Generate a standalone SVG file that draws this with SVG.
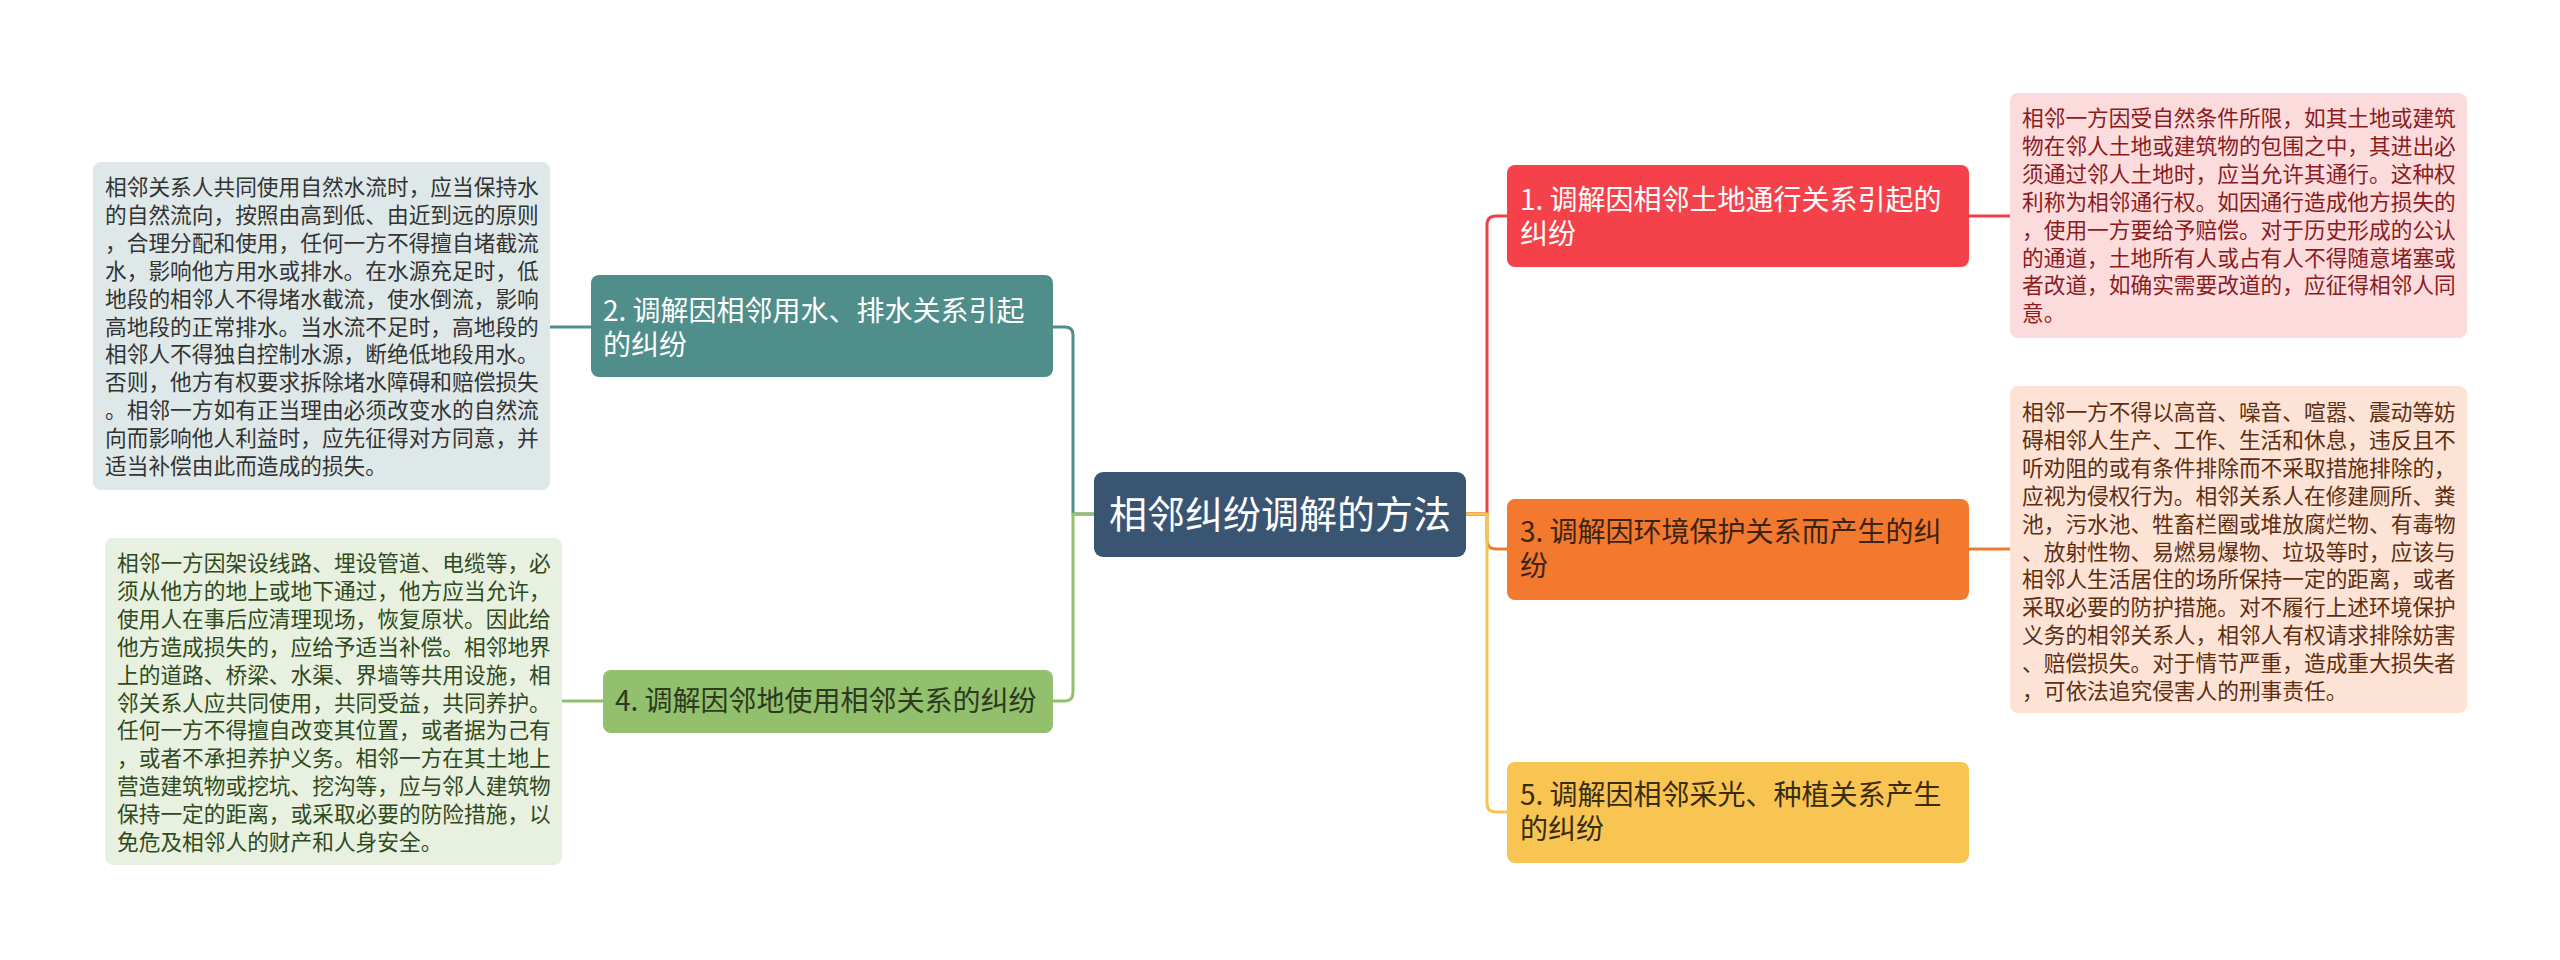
<svg xmlns="http://www.w3.org/2000/svg" width="2560" height="960" viewBox="0 0 2560 960">
<style>
text{font-family:"Noto Sans CJK SC","Noto Sans",sans-serif;}
.root{font-size:38px;fill:#ffffff;}
.nt{font-size:28px;}
.dt{font-size:21.7px;}
.c{fill:none;stroke-width:3;stroke-linecap:round;stroke-linejoin:round;}
</style>
<rect width="2560" height="960" fill="#ffffff"/>
<g id="connectors">
<path class="c" stroke="#4f8e8b" d="M1094,514 H1073 V335 Q1073,327 1065,327 H1053"/>
<path class="c" stroke="#94c06e" d="M1094,514 H1073 V692 Q1073,701 1065,701 H1053"/>
<path class="c" stroke="#4f8e8b" d="M591,327 H550"/>
<path class="c" stroke="#94c06e" d="M603,701 H562"/>
<path class="c" stroke="#ef4148" d="M1466,514 H1487 V225 Q1487,216 1496,216 H1507"/>
<path class="c" stroke="#f07a2d" d="M1466,514 H1487 V540 Q1487,549 1496,549 H1507"/>
<path class="c" stroke="#f7c451" d="M1466,514 H1487 V803 Q1487,812 1496,812 H1507"/>
<path class="c" stroke="#ef4148" d="M1969,216 H2010"/>
<path class="c" stroke="#f07a2d" d="M1969,549 H2010"/>
</g>
<g id="root">
<rect x="1094" y="472" width="372" height="85" rx="9" fill="#3a5572"/>
<text class="root" x="1280" y="528" text-anchor="middle">相邻纠纷调解的方法</text>
</g>
<g id="node1">
<rect x="1507" y="165" width="462" height="102" rx="8" fill="#f5424a"/>
<text class="nt" fill="#ffffff"><tspan x="1520" y="210">1. 调解因相邻土地通行关系引起的</tspan><tspan x="1520" y="244">纠纷</tspan></text>
</g>
<g id="node2">
<rect x="591" y="275" width="462" height="102" rx="8" fill="#4f8e8b"/>
<text class="nt" fill="#ffffff"><tspan x="603" y="321">2. 调解因相邻用水、排水关系引起</tspan><tspan x="603" y="355">的纠纷</tspan></text>
</g>
<g id="node3">
<rect x="1507" y="499" width="462" height="101" rx="8" fill="#f2792d"/>
<text class="nt" fill="#3b2416"><tspan x="1520" y="542">3. 调解因环境保护关系而产生的纠</tspan><tspan x="1520" y="576">纷</tspan></text>
</g>
<g id="node4">
<rect x="603" y="670" width="450" height="63" rx="8" fill="#93c06d"/>
<text class="nt" fill="#2b3a20" x="615" y="711">4. 调解因邻地使用相邻关系的纠纷</text>
</g>
<g id="node5">
<rect x="1507" y="762" width="462" height="101" rx="8" fill="#f8c452"/>
<text class="nt" fill="#3a2c10"><tspan x="1520" y="805">5. 调解因相邻采光、种植关系产生</tspan><tspan x="1520" y="839">的纠纷</tspan></text>
</g>
<g id="detail1">
<rect x="2010" y="93" width="457" height="245" rx="8" fill="#fcdbdc"/>
<text class="dt" fill="#8a1c1f">
<tspan x="2022" y="126">相邻一方因受自然条件所限，如其土地或建筑</tspan>
<tspan x="2022" y="153.9">物在邻人土地或建筑物的包围之中，其进出必</tspan>
<tspan x="2022" y="181.8">须通过邻人土地时，应当允许其通行。这种权</tspan>
<tspan x="2022" y="209.7">利称为相邻通行权。如因通行造成他方损失的</tspan>
<tspan x="2022" y="237.6">，使用一方要给予赔偿。对于历史形成的公认</tspan>
<tspan x="2022" y="265.5">的通道，土地所有人或占有人不得随意堵塞或</tspan>
<tspan x="2022" y="293.4">者改道，如确实需要改道的，应征得相邻人同</tspan>
<tspan x="2022" y="321.3">意。</tspan>
</text>
</g>
<g id="detail2">
<rect x="93" y="162" width="457" height="328" rx="8" fill="#dfe8e8"/>
<text class="dt" fill="#333333">
<tspan x="105" y="195">相邻关系人共同使用自然水流时，应当保持水</tspan>
<tspan x="105" y="222.9">的自然流向，按照由高到低、由近到远的原则</tspan>
<tspan x="105" y="250.8">，合理分配和使用，任何一方不得擅自堵截流</tspan>
<tspan x="105" y="278.7">水，影响他方用水或排水。在水源充足时，低</tspan>
<tspan x="105" y="306.6">地段的相邻人不得堵水截流，使水倒流，影响</tspan>
<tspan x="105" y="334.5">高地段的正常排水。当水流不足时，高地段的</tspan>
<tspan x="105" y="362.4">相邻人不得独自控制水源，断绝低地段用水。</tspan>
<tspan x="105" y="390.3">否则，他方有权要求拆除堵水障碍和赔偿损失</tspan>
<tspan x="105" y="418.2">。相邻一方如有正当理由必须改变水的自然流</tspan>
<tspan x="105" y="446.1">向而影响他人利益时，应先征得对方同意，并</tspan>
<tspan x="105" y="474">适当补偿由此而造成的损失。</tspan>
</text>
</g>
<g id="detail3">
<rect x="2010" y="386" width="457" height="327" rx="8" fill="#fce3d5"/>
<text class="dt" fill="#5e2e12">
<tspan x="2022" y="420">相邻一方不得以高音、噪音、喧嚣、震动等妨</tspan>
<tspan x="2022" y="447.9">碍相邻人生产、工作、生活和休息，违反且不</tspan>
<tspan x="2022" y="475.8">听劝阻的或有条件排除而不采取措施排除的，</tspan>
<tspan x="2022" y="503.7">应视为侵权行为。相邻关系人在修建厕所、粪</tspan>
<tspan x="2022" y="531.6">池，污水池、牲畜栏圈或堆放腐烂物、有毒物</tspan>
<tspan x="2022" y="559.5">、放射性物、易燃易爆物、垃圾等时，应该与</tspan>
<tspan x="2022" y="587.4">相邻人生活居住的场所保持一定的距离，或者</tspan>
<tspan x="2022" y="615.3">采取必要的防护措施。对不履行上述环境保护</tspan>
<tspan x="2022" y="643.2">义务的相邻关系人，相邻人有权请求排除妨害</tspan>
<tspan x="2022" y="671.1">、赔偿损失。对于情节严重，造成重大损失者</tspan>
<tspan x="2022" y="699">，可依法追究侵害人的刑事责任。</tspan>
</text>
</g>
<g id="detail4">
<rect x="105" y="538" width="457" height="327" rx="8" fill="#e8f0e0"/>
<text class="dt" fill="#2f4a1c">
<tspan x="117" y="571">相邻一方因架设线路、埋设管道、电缆等，必</tspan>
<tspan x="117" y="598.9">须从他方的地上或地下通过，他方应当允许，</tspan>
<tspan x="117" y="626.8">使用人在事后应清理现场，恢复原状。因此给</tspan>
<tspan x="117" y="654.7">他方造成损失的，应给予适当补偿。相邻地界</tspan>
<tspan x="117" y="682.6">上的道路、桥梁、水渠、界墙等共用设施，相</tspan>
<tspan x="117" y="710.5">邻关系人应共同使用，共同受益，共同养护。</tspan>
<tspan x="117" y="738.4">任何一方不得擅自改变其位置，或者据为己有</tspan>
<tspan x="117" y="766.3">，或者不承担养护义务。相邻一方在其土地上</tspan>
<tspan x="117" y="794.2">营造建筑物或挖坑、挖沟等，应与邻人建筑物</tspan>
<tspan x="117" y="822.1">保持一定的距离，或采取必要的防险措施，以</tspan>
<tspan x="117" y="850">免危及相邻人的财产和人身安全。</tspan>
</text>
</g>
</svg>
